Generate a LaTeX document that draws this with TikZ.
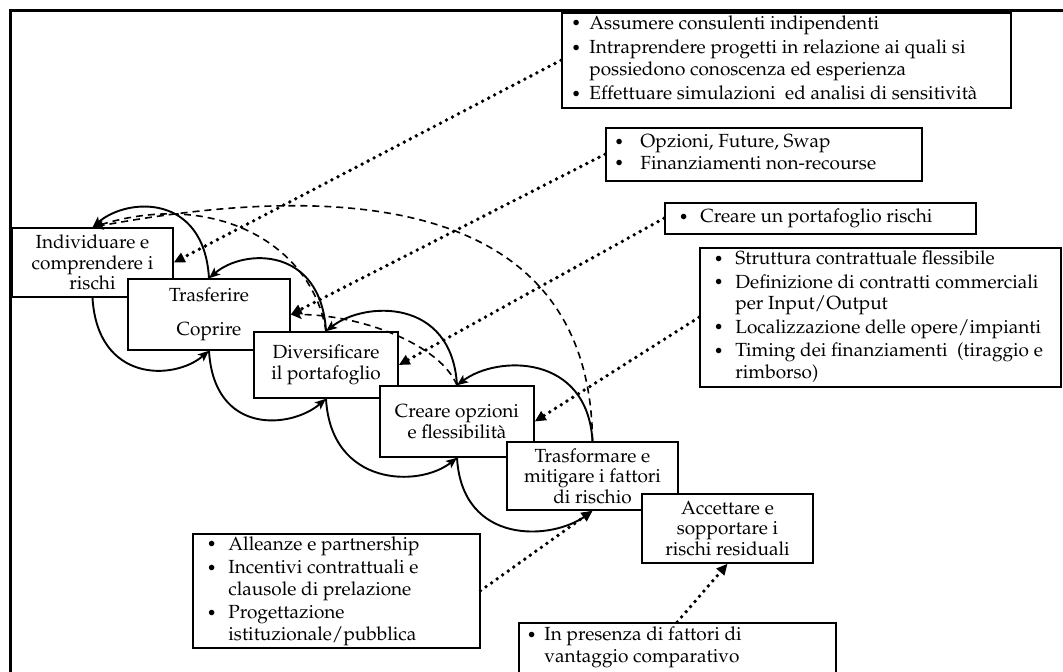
\documentclass[tikz,border=0pt]{standalone}
\usepackage[T1]{fontenc}
\renewcommand{\rmdefault}{ppl}
\usetikzlibrary{arrows.meta}

\newcommand{\stagefont}{\fontsize{19}{20.5}\selectfont}
\newcommand{\listfont}{\fontsize{19}{21.5}\selectfont}
\newcommand{\bul}{\raisebox{0.5pt}{\fontsize{16}{16}\selectfont\textbullet}}
% fixed-size text block for the note boxes: width, height, inner position, content
\newcommand{\notebox}[4]{\parbox[c][#2pt][#3]{#1pt}{#4}}

\tikzset{
  stage/.style={draw, line width=1.5pt, fill=white, inner sep=0pt, align=center, font=\stagefont},
  note/.style={draw, line width=1.5pt, fill=white, inner sep=0pt, anchor=north west, font=\listfont},
  flow/.style={line width=1.9pt, -{Stealth[length=11pt,width=9pt,inset=2.5pt]}},
  back/.style={line width=1.6pt, dash pattern=on 7pt off 5pt, -{Stealth[length=11pt,width=9pt,inset=2.5pt]}},
  link/.style={line width=3.8pt, line cap=round, dash pattern=on 0pt off 6.8pt, -{Triangle[length=11pt,width=10pt]}},
}

\begin{document}
\begin{tikzpicture}[x=1pt,y=-1pt]
\useasboundingbox (0,0) rectangle (1063,672);
\begin{scope}
\clip (0,0) rectangle (1063,672);
% outer frame
\draw[line width=3pt] (10,700) -- (10,10.5) -- (1090,10.5);

% the six stages, each one overlapping the previous
\node[stage, minimum width=161, minimum height=69] (ident) at (92.5,262.5) {Individuare e\\comprendere i\\rischi};
\node[stage, minimum width=162, minimum height=71] (transf) at (209,314.5) {Trasferire\\[14pt]Coprire};
\node[stage, minimum width=144, minimum height=66] (divers) at (326,365) {Diversificare\\il portafoglio};
\node[stage, minimum width=154, minimum height=71] (opz) at (457,421.5) {Creare opzioni\\e flessibilit\`a};
\node[stage, minimum width=171, minimum height=68] (mitig) at (592.5,476) {Trasformare e\\mitigare i fattori\\di rischio};
\node[stage, minimum width=171, minimum height=69] (accett) at (727.5,528.5) {Accettare e\\sopportare i\\rischi residuali};

% notes with the instruments of each stage
\node[note] (n1) at (561,12) {\notebox{449}{95}{c}{%
\begin{tabular}{@{\hspace*{9.5pt}}l@{\hspace*{8.5pt}}l@{}}
\bul & Assumere consulenti indipendenti\\[3pt]
\bul & Intraprendere progetti in relazione ai quali si\\
     & possiedono conoscenza ed esperienza\\[3pt]
\bul & Effettuare simulazioni\ \ ed analisi di sensitivit\`a
\end{tabular}}};

\node[note] (n2) at (605,127) {\notebox{316}{53}{c}{%
\begin{tabular}{@{\hspace*{8.5pt}}l@{\hspace*{16.5pt}}l@{}}
\bul & Opzioni, Future, Swap\\
\bul & Finanziamenti non-recourse
\end{tabular}}};

\node[note] (n3) at (664,202) {\notebox{311}{31}{c}{%
\begin{tabular}{@{\hspace*{14pt}}l@{\hspace*{12pt}}l@{}}
\bul & Creare un portafoglio rischi
\end{tabular}}};

\node[note] (n4) at (699,247) {\notebox{361}{139}{c}{%
\begin{tabular}{@{\hspace*{14pt}}l@{\hspace*{12pt}}l@{}}
\bul & Struttura contrattuale flessibile\\[2pt]
\bul & Definizione di contratti commerciali\\
     & per Input/Output\\[2pt]
\bul & Localizzazione delle opere/impianti\\[2pt]
\bul & Timing dei finanziamenti\ \ (tiraggio e\\
     & rimborso)
\end{tabular}}};

\node[note] (n5) at (192,533) {\notebox{287}{114}{c}{%
\begin{tabular}{@{\hspace*{14pt}}l@{\hspace*{12pt}}l@{}}
\bul & Alleanze e partnership\\[2pt]
\bul & Incentivi contrattuali e\\
     & clausole di prelazione\\[2pt]
\bul & Progettazione\\
     & istituzionale/pubblica
\end{tabular}}};

\node[note] (n6) at (518,622) {\notebox{317}{80}{t}{%
\vspace*{3pt}%
\begin{tabular}{@{\hspace*{8pt}}l@{\hspace*{8pt}}l@{}}
\bul & In presenza di fattori di\\
     & vantaggio comparativo
\end{tabular}}};

% forward flow, below the stages
\draw[flow] (ident.south) .. controls +(5,85) and +(-35,30) .. (transf.south);
\draw[flow] (transf.south) .. controls +(5,85) and +(-35,30) .. (divers.south);
\draw[flow] (divers.south) .. controls +(5,88) and +(-38,30) .. (opz.south);
\draw[flow] (opz.south) .. controls +(5,88) and +(-40,30) .. (mitig.south);

% feedback, above the stages
\draw[flow] (transf.north) .. controls +(-5,-85) and +(35,-30) .. (ident.north);
\draw[flow] (divers.north) .. controls +(-5,-85) and +(35,-30) .. (transf.north);
\draw[flow] (opz.north) .. controls +(-5,-88) and +(38,-30) .. (divers.north);
\draw[flow] (mitig.north) .. controls +(-5,-88) and +(40,-30) .. (opz.north);

% long feedback loops
\draw[back] (divers.north) .. controls +(-14,-87) and +(122,-38) .. (ident.north);
\draw[back] (mitig.north) .. controls +(-2,-242) and +(257,-48) .. (ident.north);
\draw[back] (opz.north) .. controls +(-17,-41) and +(70,0) .. (transf.east);

% notes attached to their stages
\draw[link] (n1.west) -- (ident.east);
\draw[link] (n2.west) -- (transf.east);
\draw[link] (n3.west) -- (divers.east);
\draw[link] (n4.west) -- (opz.east);
\draw[link] (n5.east) -- (mitig.south);
\draw[link] (n6.north) -- (accett.south);
\end{scope}
\end{tikzpicture}
\end{document}
